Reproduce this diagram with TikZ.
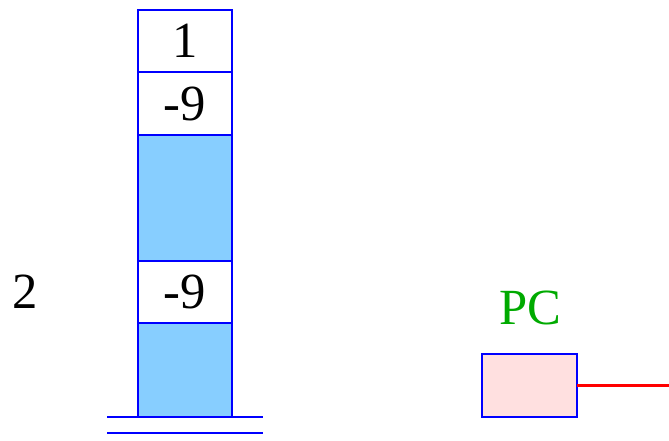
\documentclass[tikz,border=0pt]{standalone}
\usepackage{fontspec}
\setmainfont{Liberation Serif}
\usetikzlibrary{positioning}

\definecolor{cellblue}{RGB}{135,206,255}
\definecolor{pcpink}{RGB}{255,224,224}
\definecolor{pcgreen}{RGB}{0,170,0}
\definecolor{linkred}{RGB}{255,0,0}

\tikzset{
  cell/.style={draw=blue, line width=2pt, minimum width=70.5pt,
    inner sep=0pt, outer sep=0pt, font=\fontsize{38}{40}\selectfont},
  big/.style={font=\fontsize{38}{40}\selectfont},
}

\begin{document}
\begin{tikzpicture}[x=0.75pt, y=-0.75pt, node distance=0pt]
\useasboundingbox (0,0) rectangle (669,441);

\node (top) [cell, minimum height=46.5pt] at (185,41) {1};
\node (second) [cell, minimum height=47.25pt, below=of top] {-9};
\node (gap) [cell, fill=cellblue, minimum height=94.5pt, below=of second] {};
\node (third) [cell, minimum height=46.5pt, below=of gap] {-9};
\node (bottom) [cell, fill=cellblue, minimum height=70.5pt, below=of third] {};

\draw[blue, line width=2pt] ([xshift=-23.25pt]bottom.south west) -- ([xshift=23.25pt]bottom.south east);
\draw[blue, line width=2pt] ([xshift=-23.25pt,yshift=-12pt]bottom.south west) -- ([xshift=23.25pt,yshift=-12pt]bottom.south east);

\node (level) [big] at (25,292) {2};

\node (pc) [draw=blue, fill=pcpink, line width=2pt, minimum width=71.25pt,
  minimum height=47.25pt, inner sep=0pt, outer sep=0pt] at (529.5,385.5) {};
\node (pclabel) [big, text=pcgreen] at (530,308) {PC};
\coordinate (pcout) at (669,385.5);
\draw[draw=linkred, line width=1.6pt] (pc.east) -- (pcout);

\end{tikzpicture}
\end{document}
